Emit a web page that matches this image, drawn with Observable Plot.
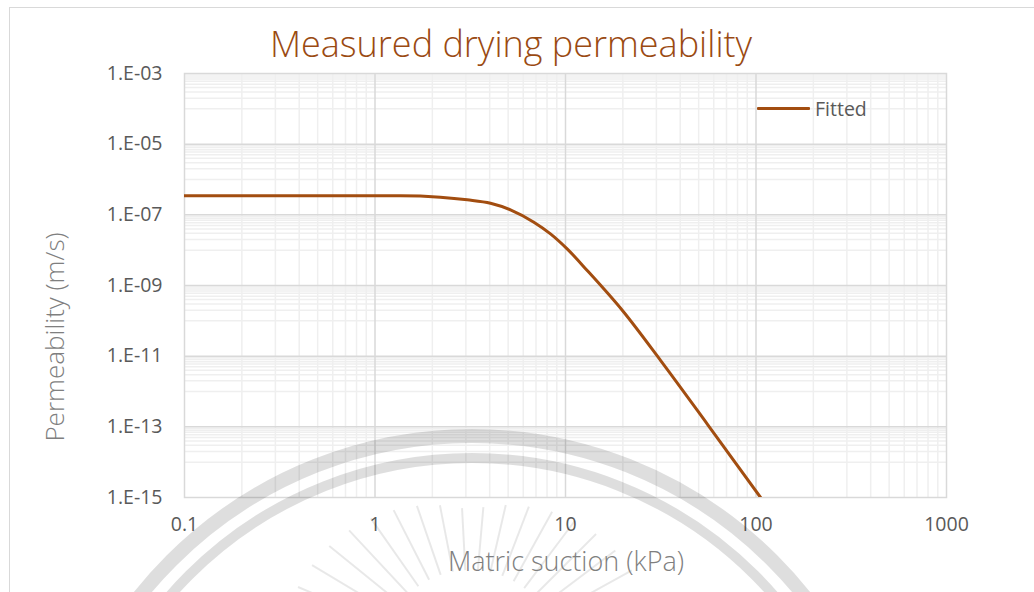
<!DOCTYPE html>
<html>
<head>
<meta charset="utf-8">
<script src="https://cdn.jsdelivr.net/npm/d3@7"></script>
<script src="https://cdn.jsdelivr.net/npm/@observablehq/plot@0.6"></script>
<style>
  html, body { margin: 0; padding: 0; background: #fff; }
  #wrap { position: relative; width: 1034px; height: 592px; overflow: hidden; font-family: "Open Sans", sans-serif; }
  #border { position: absolute; left: 9px; top: 7px; width: 1040px; height: 600px; border: 1.5px solid #d9d9d9; box-sizing: border-box; }
  .lbl { position: absolute; white-space: nowrap; }
  #title { left: 511px; top: 26px; transform: translateX(-50%); font-size: 36px; font-weight: 300; color: #9a4a12; line-height: 1; }
  #xlabel { left: 566px; top: 547px; transform: translateX(-50%); font-size: 27px; font-weight: 300; color: #7f7f7f; line-height: 1; }
  #ylabel { left: 54px; top: 337px; transform: translate(-50%, -50%) rotate(-90deg); font-size: 26px; font-weight: 300; color: #7f7f7f; line-height: 1; }
  #legend { left: 757px; top: 95px; display: flex; align-items: center; font-size: 19.5px; color: #595959; }
  #legend .sw { width: 53px; height: 3px; background: #a24d10; margin-right: 5px; border-radius: 1px; }
  #plot { position: absolute; left: 0; top: 0; }
  #wm { position: absolute; left: 0; top: 0; pointer-events: none; }
</style>
</head>
<body>
<div id="wrap">
  <div id="border"></div>
  <div id="plot"></div>
  <svg id="wm" width="1034" height="592"></svg>
  <div id="title" class="lbl">Measured drying permeability</div>
  <div id="xlabel" class="lbl">Matric suction (kPa)</div>
  <div id="ylabel" class="lbl">Permeability (m/s)</div>
  <div id="legend" class="lbl"><span class="sw"></span><span>Fitted</span></div>
</div>
<script>
// ---- data ----
const suction = [0.1, 0.5, 1.0, 1.36, 2.2, 3.05, 4.04, 5.14, 6.82, 8.34, 10.2, 13.0, 19.9, 31.6, 55.5, 105.7];
const permeability = [3.46e-7, 3.46e-7, 3.46e-7, 3.46e-7, 3.15e-7, 2.66e-7, 2.13e-7, 1.39e-7, 6.2e-8, 2.9e-8, 1.09e-8, 2.66e-9, 1.96e-10, 7.5e-12, 1.2e-13, 1e-15];
const seriesName = "Fitted";

// ---- axes ----
const xTicks = [0.1, 1, 10, 100, 1000];
const yTicks = [1e-3, 1e-5, 1e-7, 1e-9, 1e-11, 1e-13, 1e-15];
const minorMultiples = [2, 3, 4, 5, 6, 7, 8, 9];
const yMinorBase = [1e-4, 1e-6, 1e-8, 1e-10, 1e-12, 1e-14];

const xMajorGrid = [1, 10, 100];
const xMinorGrid = [0.1, 1, 10, 100].flatMap(d => minorMultiples.map(k => +(k * d).toPrecision(3)));
const yMajorGrid = [1e-5, 1e-7, 1e-9, 1e-11, 1e-13];
const yMinorGrid = yMinorBase.flatMap(b => [1, ...minorMultiples].map(k => k * b));

const data = suction.map((s, i) => ({suction: s, k: permeability[i], series: seriesName}));

const fmtY = d => "1.E-" + String(Math.round(-Math.log10(d))).padStart(2, "0");

const chart = Plot.plot({
  width: 1034,
  height: 592,
  marginLeft: 184,
  marginRight: 88,
  marginTop: 73,
  marginBottom: 95,
  style: {fontFamily: "Open Sans, sans-serif", fontSize: "19.5px", color: "#595959", background: "transparent"},
  x: {type: "log", domain: [0.1, 1000]},
  y: {type: "log", domain: [1e-15, 1e-3]},
  marks: [
    Plot.ruleX(xMinorGrid, {stroke: "#efefef", strokeWidth: 1.5}),
    Plot.ruleY(yMinorGrid, {stroke: "#efefef", strokeWidth: 1.5}),
    Plot.ruleX(xMajorGrid, {stroke: "#d9d9d9", strokeWidth: 1.5}),
    Plot.ruleY(yMajorGrid, {stroke: "#d9d9d9", strokeWidth: 1.5}),
    Plot.frame({stroke: "#d9d9d9", strokeWidth: 1.5}),
    Plot.axisX({ticks: xTicks, tickSize: 0, tickPadding: 20, tickFormat: d => String(d), label: null}),
    Plot.axisY({ticks: yTicks, tickSize: 0, tickPadding: 22, tickFormat: fmtY, label: null}),
    Plot.line(data, {x: "suction", y: "k", stroke: "#a24d10", strokeWidth: 3, curve: "monotone-x", clip: true})
  ]
});
document.getElementById("plot").appendChild(chart);

// ---- faint background watermark (decoration) ----
const wm = d3.select("#wm");
const cx = 472, cy = 861;
wm.append("circle").attr("cx", cx).attr("cy", cy).attr("r", 425)
  .attr("fill", "none").attr("stroke", "rgba(0,0,0,0.13)").attr("stroke-width", 14);
wm.append("circle").attr("cx", cx).attr("cy", cy - 3).attr("r", 400)
  .attr("fill", "none").attr("stroke", "rgba(0,0,0,0.13)").attr("stroke-width", 10);
const rc = [470, 660];
d3.range(-165, -14, 8).forEach(a => {
  const t = a * Math.PI / 180;
  const r0 = 90, r1 = 150 + 40 * Math.abs(Math.cos(t));
  wm.append("line")
    .attr("x1", rc[0] + r0 * Math.cos(t)).attr("y1", rc[1] + r0 * Math.sin(t))
    .attr("x2", rc[0] + r1 * Math.cos(t)).attr("y2", rc[1] + r1 * Math.sin(t))
    .attr("stroke", "rgba(0,0,0,0.09)").attr("stroke-width", 2);
});
</script>
</body>
</html>
